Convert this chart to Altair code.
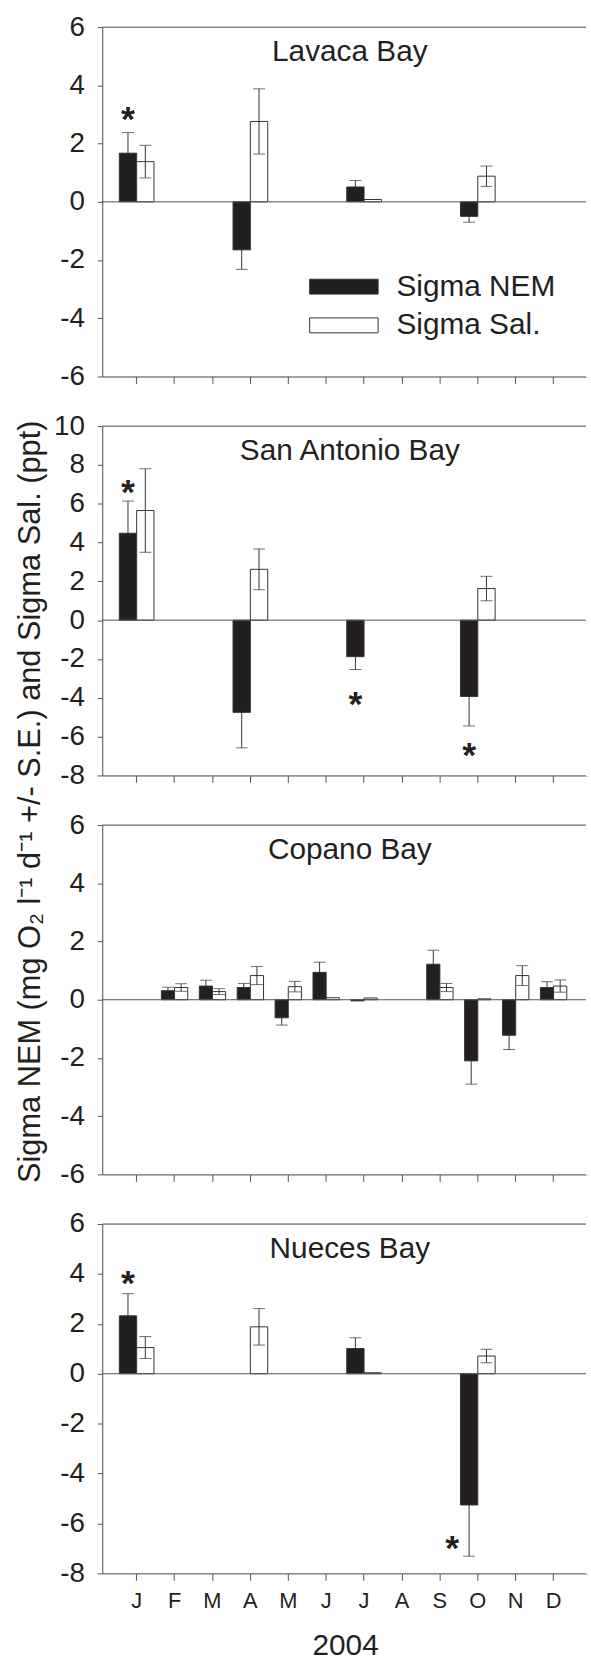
import altair as alt
import pandas as pd

FONT = "Liberation Sans"
TXT = "#231f20"
LINE = "#555555"
BAR = "#231f20"
WHISK = "#333333"

MONTHS = ["Jan", "Feb", "Mar", "Apr", "May", "Jun", "Jul", "Aug", "Sep", "Oct", "Nov", "Dec"]
SERIES = ["Sigma NEM", "Sigma Sal."]
BAYS = ["Lavaca Bay", "San Antonio Bay", "Copano Bay", "Nueces Bay"]
N = None

LAVACA_NEM = [1.67, N, N, -1.65, N, N, 0.51, N, N, -0.50, N, N]
LAVACA_NEM_SE = [0.71, N, N, 0.67, N, N, 0.22, N, N, 0.20, N, N]
LAVACA_SAL = [1.38, N, N, 2.76, N, N, 0.08, N, N, 0.88, N, N]
LAVACA_SAL_SE = [0.56, N, N, 1.12, N, N, N, N, N, 0.35, N, N]

SANANT_NEM = [4.48, N, N, -4.75, N, N, -1.88, N, N, -3.93, N, N]
SANANT_NEM_SE = [1.66, N, N, 1.83, N, N, 0.66, N, N, 1.52, N, N]
SANANT_SAL = [5.65, N, N, 2.62, N, N, N, N, N, 1.63, N, N]
SANANT_SAL_SE = [2.15, N, N, 1.05, N, N, N, N, N, 0.63, N, N]

COPANO_NEM = [N, 0.31, 0.47, 0.42, -0.62, 0.94, -0.04, N, 1.22, -2.10, -1.22, 0.42]
COPANO_NEM_SE = [N, 0.12, 0.20, 0.14, 0.25, 0.35, N, N, 0.48, 0.80, 0.49, 0.20]
COPANO_SAL = [N, 0.42, 0.28, 0.83, 0.45, 0.07, 0.06, N, 0.42, 0.03, 0.83, 0.47]
COPANO_SAL_SE = [N, 0.13, 0.10, 0.31, 0.18, N, N, N, 0.14, N, 0.34, 0.21]

NUECES_NEM = [2.32, N, N, N, N, N, 1.01, N, N, -5.26, N, N]
NUECES_NEM_SE = [0.89, N, N, N, N, N, 0.43, N, N, 2.05, N, N]
NUECES_SAL = [1.05, N, N, 1.88, N, N, 0.04, N, N, 0.71, N, N]
NUECES_SAL_SE = [0.44, N, N, 0.73, N, N, N, N, N, 0.27, N, N]

Y_MIN = [-6, -8, -6, -8]
Y_MAX = [6, 10, 6, 6]

# significance asterisks (bay, month, y position in data units)
STAR_BAY = ["Lavaca Bay", "San Antonio Bay", "San Antonio Bay", "San Antonio Bay", "Nueces Bay", "Nueces Bay"]
STAR_MONTH = ["Jan", "Jan", "Jul", "Oct", "Jan", "Oct"]
STAR_Y = [3.15, 7.06, -3.88, -6.51, 4.0, -6.63]

SOURCES = {
    "Lavaca Bay": (LAVACA_NEM, LAVACA_NEM_SE, LAVACA_SAL, LAVACA_SAL_SE),
    "San Antonio Bay": (SANANT_NEM, SANANT_NEM_SE, SANANT_SAL, SANANT_SAL_SE),
    "Copano Bay": (COPANO_NEM, COPANO_NEM_SE, COPANO_SAL, COPANO_SAL_SE),
    "Nueces Bay": (NUECES_NEM, NUECES_NEM_SE, NUECES_SAL, NUECES_SAL_SE),
}

rows = []
for bay, (nem, nem_se, sal, sal_se) in SOURCES.items():
    for i, m in enumerate(MONTHS):
        for s, v, e in ((SERIES[0], nem[i], nem_se[i]), (SERIES[1], sal[i], sal_se[i])):
            if v is not None:
                rows.append({"bay": bay, "month": m, "series": s, "value": v, "se": e})
df = pd.DataFrame(rows)
stars = pd.DataFrame({"bay": STAR_BAY, "month": STAR_MONTH, "series": SERIES[0], "value": STAR_Y})

W = 489.5
H = 352
YTITLE = "Sigma NEM (mg O\u2082 l\u207b\u00b9 d\u207b\u00b9 +/- S.E.) and Sigma Sal. (ppt)"
HYPHEN_LABELS = "datum.value < 0 ? '-' + abs(datum.value) : '' + datum.value"


def panel(idx, bay):
    ymin, ymax = Y_MIN[idx], Y_MAX[idx]
    last = idx == 3
    if bay == "Copano Bay":
        pin, pout = 0.305, 0.561
    else:
        pin, pout = 0.0855, 0.451
    xscale = alt.Scale(domain=MONTHS, paddingInner=pin, paddingOuter=pout)
    xaxis = alt.Axis(
        orient="bottom",
        title="2004" if last else None,
        labels=last,
        labelExpr="slice(datum.value, 0, 1)",
        bandPosition=0.5,
        ticks=True, tickSize=7, tickColor=LINE, domainColor=LINE,
        labelFontSize=22, labelColor=TXT, labelFont=FONT, labelPadding=10,
        titleFontSize=30, titleFont=FONT, titleFontWeight="normal", titleColor=TXT,
        titlePadding=20, grid=False, labelAngle=0,
    )
    yaxis_kw = dict(
        orient="left",
        values=list(range(ymin, ymax + 1, 2)),
        labelExpr=HYPHEN_LABELS,
        tickSize=5, tickColor=LINE, domainColor=LINE, grid=False,
        labelFontSize=28, labelColor=TXT, labelFont=FONT, labelPadding=13,
    )
    if bay == "San Antonio Bay":
        yaxis = alt.Axis(
            title=YTITLE, titleFontSize=31, titleFont=FONT, titleFontWeight="normal",
            titleColor=TXT, titleAngle=270, titleAlign="center", titleBaseline="alphabetic",
            titleX=-63.5, titleY=378, **yaxis_kw,
        )
    else:
        yaxis = alt.Axis(title="", **yaxis_kw)
    yscale = alt.Scale(domain=[ymin, ymax], nice=False, zero=False)

    X = alt.X("month:N", scale=xscale, axis=xaxis, sort=MONTHS)
    XO = alt.XOffset("series:N", scale=alt.Scale(domain=SERIES, paddingInner=0, paddingOuter=0))
    Y = alt.Y("value:Q", scale=yscale, axis=yaxis)

    d = df[df.bay == bay]
    base = alt.Chart(d)

    if idx == 0:
        legend = alt.Legend(
            title=None, orient="none", legendX=228, legendY=246,
            symbolType="M-2.3,-0.5H2.3V0.5H-2.3Z", symbolSize=900,
            symbolStrokeColor="#333333", symbolStrokeWidth=1,
            labelFontSize=30, labelFont=FONT, labelColor=TXT, labelOffset=37.5,
            labelLimit=0, rowPadding=8,
        )
    else:
        legend = None

    bars = base.mark_bar(stroke="#333333", strokeWidth=1).encode(
        x=X, xOffset=XO, y=Y, y2=alt.datum(0),
        fill=alt.Fill("series:N", scale=alt.Scale(domain=SERIES, range=[BAR, "#ffffff"]), legend=legend),
    )

    def errorbars(series):
        eb = base.transform_filter(f"isValid(datum.se) && datum.series == '{series}'")
        whisk = (
            eb.transform_calculate(value2="datum.value + datum.se")
            .transform_calculate(value="datum.value - datum.se")
            .mark_rule(color=WHISK, strokeWidth=1)
            .encode(x=X, xOffset=XO, y=Y, y2=alt.Y2("value2:Q"))
        )
        cap_hi = (
            eb.transform_calculate(value="datum.value + datum.se")
            .mark_tick(color=WHISK, size=12, thickness=1, orient="horizontal")
            .encode(x=X, xOffset=XO, y=Y)
        )
        cap_lo = (
            eb.transform_calculate(value="datum.value - datum.se")
            .mark_tick(color=WHISK, size=12, thickness=1, orient="horizontal")
            .encode(x=X, xOffset=XO, y=Y)
        )
        return [whisk, cap_hi, cap_lo]

    ref = pd.DataFrame({"value": [0, ymax]})
    rules = alt.Chart(ref).mark_rule(color=LINE, strokeWidth=1).encode(y=Y)
    title = alt.Chart(pd.DataFrame({"t": [bay]})).mark_text(
        fontSize=30, font=FONT, color=TXT, baseline="alphabetic", align="center"
    ).encode(text="t:N", x=alt.value(249.5), y=alt.value(34))
    # white mask over the right edge (the original figure has no right frame)
    mask = alt.Chart(pd.DataFrame({"m": [1]})).mark_rule(color="white", strokeWidth=4).encode(
        x=alt.value(W), y=alt.value(-2), y2=alt.value(H + 1)
    )

    layers = errorbars(SERIES[0]) + [bars] + errorbars(SERIES[1]) + [rules, title]
    st = stars[stars.bay == bay]
    if len(st):
        is_shift = (st.bay == "Nueces Bay") & (st.month == "Oct")
        normal = st[~is_shift]
        shifted = st[is_shift]
        if len(normal):
            layers.append(alt.Chart(normal).mark_text(
                text="*", fontSize=36, fontWeight="bold", font=FONT, color=TXT,
                baseline="alphabetic", align="center", dy=21,
            ).encode(x=X, xOffset=XO, y=Y))
        if len(shifted):
            layers.append(alt.Chart(shifted).mark_text(
                text="*", fontSize=36, fontWeight="bold", font=FONT, color=TXT,
                baseline="alphabetic", align="center", dy=21, dx=-17,
            ).encode(x=X, xOffset=XO, y=Y))
    layers.append(mask)

    return alt.layer(*layers).properties(width=W, height=H)


panels = [panel(i, b) for i, b in enumerate(BAYS)]

chart = (
    alt.vconcat(*panels, spacing=50, bounds="flush")
    .resolve_scale(x="independent", y="independent", fill="independent", xOffset="independent")
    .properties(padding={"left": 13, "top": 6, "right": 0, "bottom": 0}, background="white")
    .configure_view(stroke="transparent", strokeWidth=0)
    .configure(font=FONT)
)

chart.save("out.html", embed_options={"renderer": "svg", "actions": False})
